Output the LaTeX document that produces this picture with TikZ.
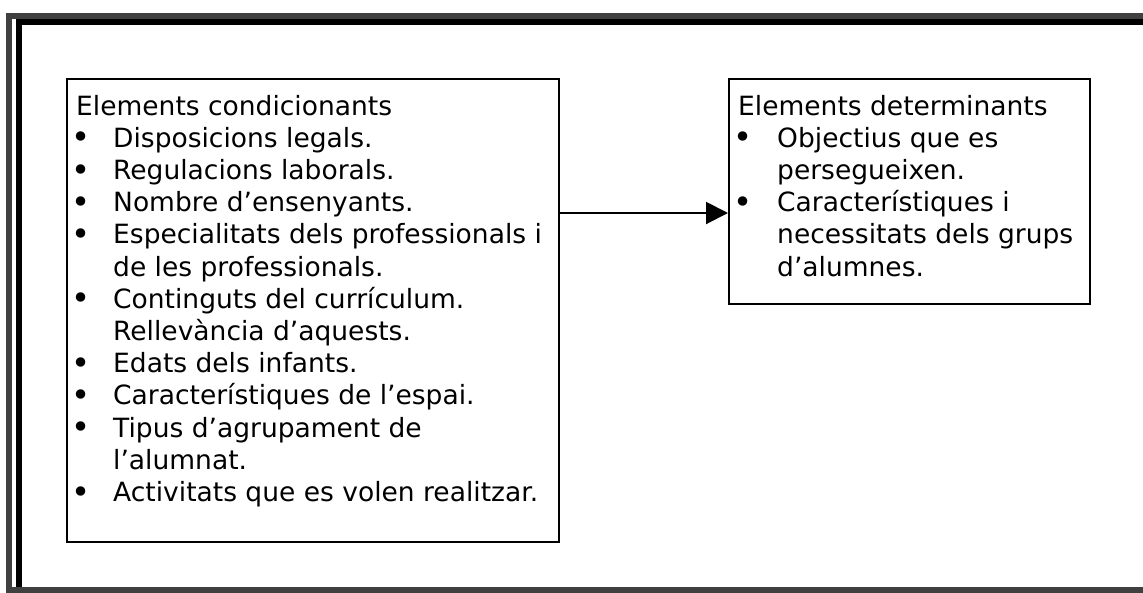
\documentclass[tikz,border=0pt]{standalone}
\usepackage{fontspec}
\setmainfont{DejaVu Sans}
\usepackage{array}
\usepackage{graphicx}
\usetikzlibrary{arrows.meta}

% one bullet item: a slightly enlarged centred dot
\newcommand{\itm}{\makebox[10pt][c]{\raisebox{-1.6pt}{\scalebox{1.22}{•}}}}

\begin{document}
\begin{tikzpicture}[x=1pt,y=-1pt,
  framegray/.style={draw=black!75, line width=6pt},
  frameblack/.style={draw=black, line width=6pt},
  boxstyle/.style={draw=black, line width=2pt, rectangle, inner sep=0pt},
  listtext/.style={anchor=base west, inner sep=0pt, align=left,
                   font=\fontsize{26.5}{32.2}\selectfont},
  link/.style={draw=black, line width=2pt,
               -{Triangle[length=22pt,width=22pt]}}]
\useasboundingbox (0,0) rectangle (1143,592);

% page frame: grey outer rule and black inner rule
\draw[framegray] (1150,15.5) -- (9,15.5) -- (9,590) -- (1150,590);
\draw[frameblack] (1150,22) -- (19,22) -- (19,587);

% boxes
\node[boxstyle, anchor=north west, minimum width=492pt, minimum height=463pt]
  (cond) at (66,78) {};
\node[boxstyle, anchor=north west, minimum width=361pt, minimum height=225pt]
  (det) at (728,78) {};

% box contents
\node[listtext] (condtext) at (76,115) {%
\begin{tabular}[t]{@{}p{37pt}@{}l@{}}
\multicolumn{2}{@{}l@{}}{Elements condicionants}\\
\itm & Disposicions legals.\\
\itm & Regulacions laborals.\\
\itm & Nombre d’ensenyants.\\
\itm & Especialitats dels professionals i\\
     & de les professionals.\\
\itm & Continguts del currículum.\\
     & Rellevància d’aquests.\\
\itm & Edats dels infants.\\
\itm & Característiques de l’espai.\\
\itm & Tipus d’agrupament de\\
     & l’alumnat.\\
\itm & Activitats que es volen realitzar.
\end{tabular}};

\node[listtext] (dettext) at (738,115) {%
\begin{tabular}[t]{@{}p{39pt}@{}l@{}}
\multicolumn{2}{@{}l@{}}{Elements determinants}\\
\itm & Objectius que es\\
     & persegueixen.\\
\itm & Característiques i\\
     & necessitats dels grups\\
     & d’alumnes.
\end{tabular}};

% connector
\coordinate (arrowlevel) at (0,213);
\draw[link] (cond.east |- arrowlevel) -- (det.west |- arrowlevel);
\end{tikzpicture}
\end{document}
